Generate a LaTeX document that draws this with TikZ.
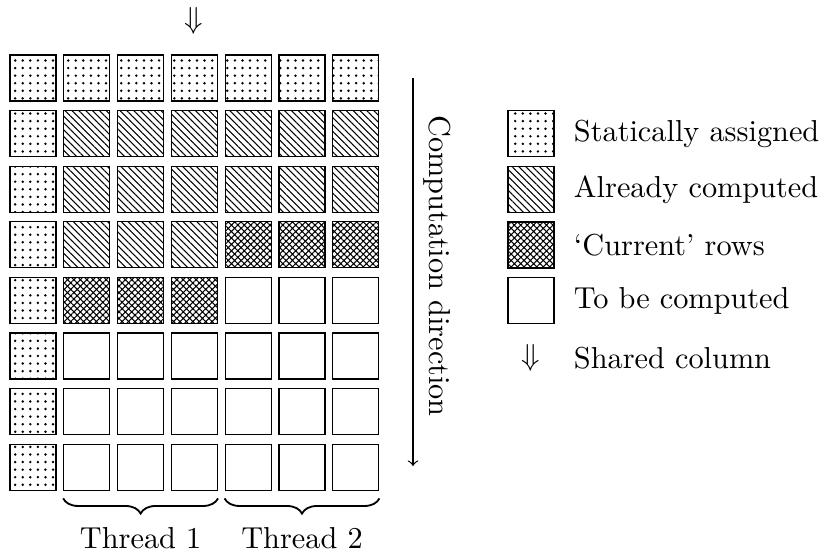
\documentclass[tikz,border=0pt]{standalone}
\usetikzlibrary{patterns,patterns.meta,positioning,decorations.pathreplacing}

\tikzset{
  cell/.style={draw, minimum size=0.534cm, inner sep=0pt},
  stat/.style={pattern={Dots[distance=2.5pt, radius=0.45pt]}},
  done/.style={pattern={Lines[angle=-45, distance=1.6pt, line width=0.35pt]}},
  curr/.style={pattern={Hatch[angle=45, distance=1.5pt, line width=0.35pt]}},
  todo/.style={},
  thread/.style={decorate, line width=0.6pt, decoration={brace, mirror, amplitude=5pt}},
}

\begin{document}
\begin{tikzpicture}[x=0.0116cm, y=-0.0116cm]
\useasboundingbox (0,0) rectangle (827,553);

% the grid
\foreach [count=\r from 0] \row in {
  {stat,stat,stat,stat,stat,stat,stat},
  {stat,done,done,done,done,done,done},
  {stat,done,done,done,done,done,done},
  {stat,done,done,done,curr,curr,curr},
  {stat,curr,curr,curr,todo,todo,todo},
  {stat,todo,todo,todo,todo,todo,todo},
  {stat,todo,todo,todo,todo,todo,todo},
  {stat,todo,todo,todo,todo,todo,todo}}
  \foreach [count=\c from 0] \kind in \row
    \node[cell, \kind] (c-\r-\c) at ({33+53.8*\c}, {78+55.6*\r}) {};

\node (shared) at (194,21) {$\Downarrow$};

% direction
\coordinate (dtop) at (413,78);
\coordinate (dbot) at (413,466);
\draw[->] (dtop) -- (dbot);
\node[rotate=-90] (dir) at (437,266) {Computation direction};

% threads
\draw[thread] ([yshift=-2.5pt]c-7-1.south west) -- ([yshift=-2.5pt]c-7-3.south east)
  node[midway, below=6pt] (t1) {Thread 1};
\draw[thread] ([yshift=-2.5pt]c-7-4.south west) -- ([yshift=-2.5pt]c-7-6.south east)
  node[midway, below=6pt] (t2) {Thread 2};

% legend
\node[cell, stat] (leg-stat) at (531,133.5) {};
\node[cell, done] (leg-done) at (531,189.5) {};
\node[cell, curr] (leg-curr) at (531,245) {};
\node[cell, todo] (leg-todo) at (531,300.5) {};
\node (leg-shared) at (531,358) {$\Downarrow$};
\coordinate (leg-end) at (leg-shared -| leg-todo.east);

\node[right=0.1cm of leg-stat] {Statically assigned};
\node[right=0.1cm of leg-done] {Already computed};
\node[right=0.1cm of leg-curr] {`Current' rows};
\node[right=0.1cm of leg-todo] {To be computed};
\node[right=0.1cm of leg-end] {Shared column};
\end{tikzpicture}
\end{document}
